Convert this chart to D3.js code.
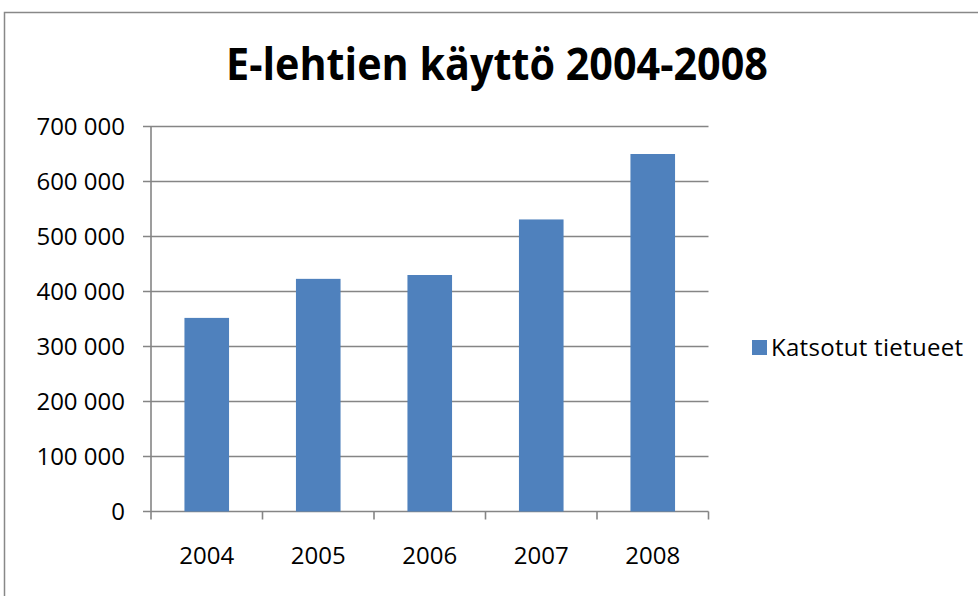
<!DOCTYPE html>
<html>
<head>
<meta charset="utf-8">
<script src="https://cdn.jsdelivr.net/npm/d3@7"></script>
<style>
  body { margin: 0; background: #fff; }
  svg { display: block; }
</style>
</head>
<body>
<div class="canvas"></div>
<script>
const years = ["2004", "2005", "2006", "2007", "2008"];
const views = [352000, 423000, 430000, 531000, 650000];
const yTicks = [0, 100000, 200000, 300000, 400000, 500000, 600000, 700000];
const seriesName = "Katsotut tietueet";
const title = "E-lehtien käyttö 2004-2008";

const W = 978, H = 596;
const margin = { top: 126.5, right: 269.5, bottom: 84.5, left: 151 };
const width = W - margin.left - margin.right;
const height = H - margin.top - margin.bottom;

const svg = d3.select(".canvas").append("svg").attr("width", W).attr("height", H);

// outer frame
svg.append("rect")
  .attr("x", 4.5).attr("y", 12.5)
  .attr("width", 1000).attr("height", 700)
  .attr("fill", "none")
  .attr("stroke", "#888")
  .attr("stroke-width", 1.5);

svg.append("text")
  .attr("x", 497).attr("y", 80)
  .attr("text-anchor", "middle")
  .attr("font-family", "Open Sans")
  .attr("font-weight", "bold")
  .attr("font-size", 45)
  .attr("textLength", 542)
  .attr("lengthAdjust", "spacingAndGlyphs")
  .text(title);

const g = svg.append("g").attr("transform", `translate(${margin.left},${margin.top})`);

const x = d3.scaleBand().domain(years).range([0, width]).paddingInner(0.6).paddingOuter(0.3);
const y = d3.scaleLinear().domain([0, 700000]).range([height, 0]);
const step = x.step();

const fmt = (d) => d3.format(",")(d).replace(/,/g, " ");

// gridlines
g.selectAll(".grid")
  .data(yTicks)
  .join("line")
  .attr("x1", -8).attr("x2", width)
  .attr("y1", (d) => y(d)).attr("y2", (d) => y(d))
  .attr("stroke", "#858585")
  .attr("stroke-width", 1.6);

// y axis line
g.append("line")
  .attr("x1", 0).attr("x2", 0)
  .attr("y1", 0).attr("y2", height)
  .attr("stroke", "#858585").attr("stroke-width", 1.6);

// x tick marks at category boundaries
const bounds = years.map((d) => x(d) - step * 0.3).concat([width]);
g.selectAll(".xtick")
  .data(bounds)
  .join("line")
  .attr("x1", (d) => d).attr("x2", (d) => d)
  .attr("y1", height).attr("y2", height + 8)
  .attr("stroke", "#858585").attr("stroke-width", 1.6);

// bars
g.selectAll(".bar")
  .data(years)
  .join("rect")
  .attr("x", (d) => x(d))
  .attr("y", (d, i) => y(views[i]))
  .attr("width", x.bandwidth())
  .attr("height", (d, i) => height - y(views[i]))
  .attr("fill", "#4F81BD");

// y labels
g.selectAll(".ylab")
  .data(yTicks)
  .join("text")
  .attr("x", -26)
  .attr("y", (d) => y(d))
  .attr("dy", "0.35em")
  .attr("text-anchor", "end")
  .attr("font-family", "Open Sans")
  .attr("font-size", 24)
  .attr("fill", "#000")
  .text(fmt);

// x labels
g.selectAll(".xlab")
  .data(years)
  .join("text")
  .attr("x", (d) => x(d) + x.bandwidth() / 2)
  .attr("y", height + 52)
  .attr("text-anchor", "middle")
  .attr("font-family", "Open Sans")
  .attr("font-size", 24)
  .attr("fill", "#000")
  .text((d) => d);

// legend
const legend = svg.append("g").attr("transform", "translate(752,340)");
legend.append("rect").attr("width", 15).attr("height", 15).attr("fill", "#4F81BD");
legend.append("text")
  .attr("x", 19).attr("y", 8)
  .attr("dy", "0.35em")
  .attr("font-family", "Open Sans")
  .attr("font-size", 24)
  .attr("textLength", 192)
  .attr("fill", "#000")
  .text(seriesName);
</script>
</body>
</html>
